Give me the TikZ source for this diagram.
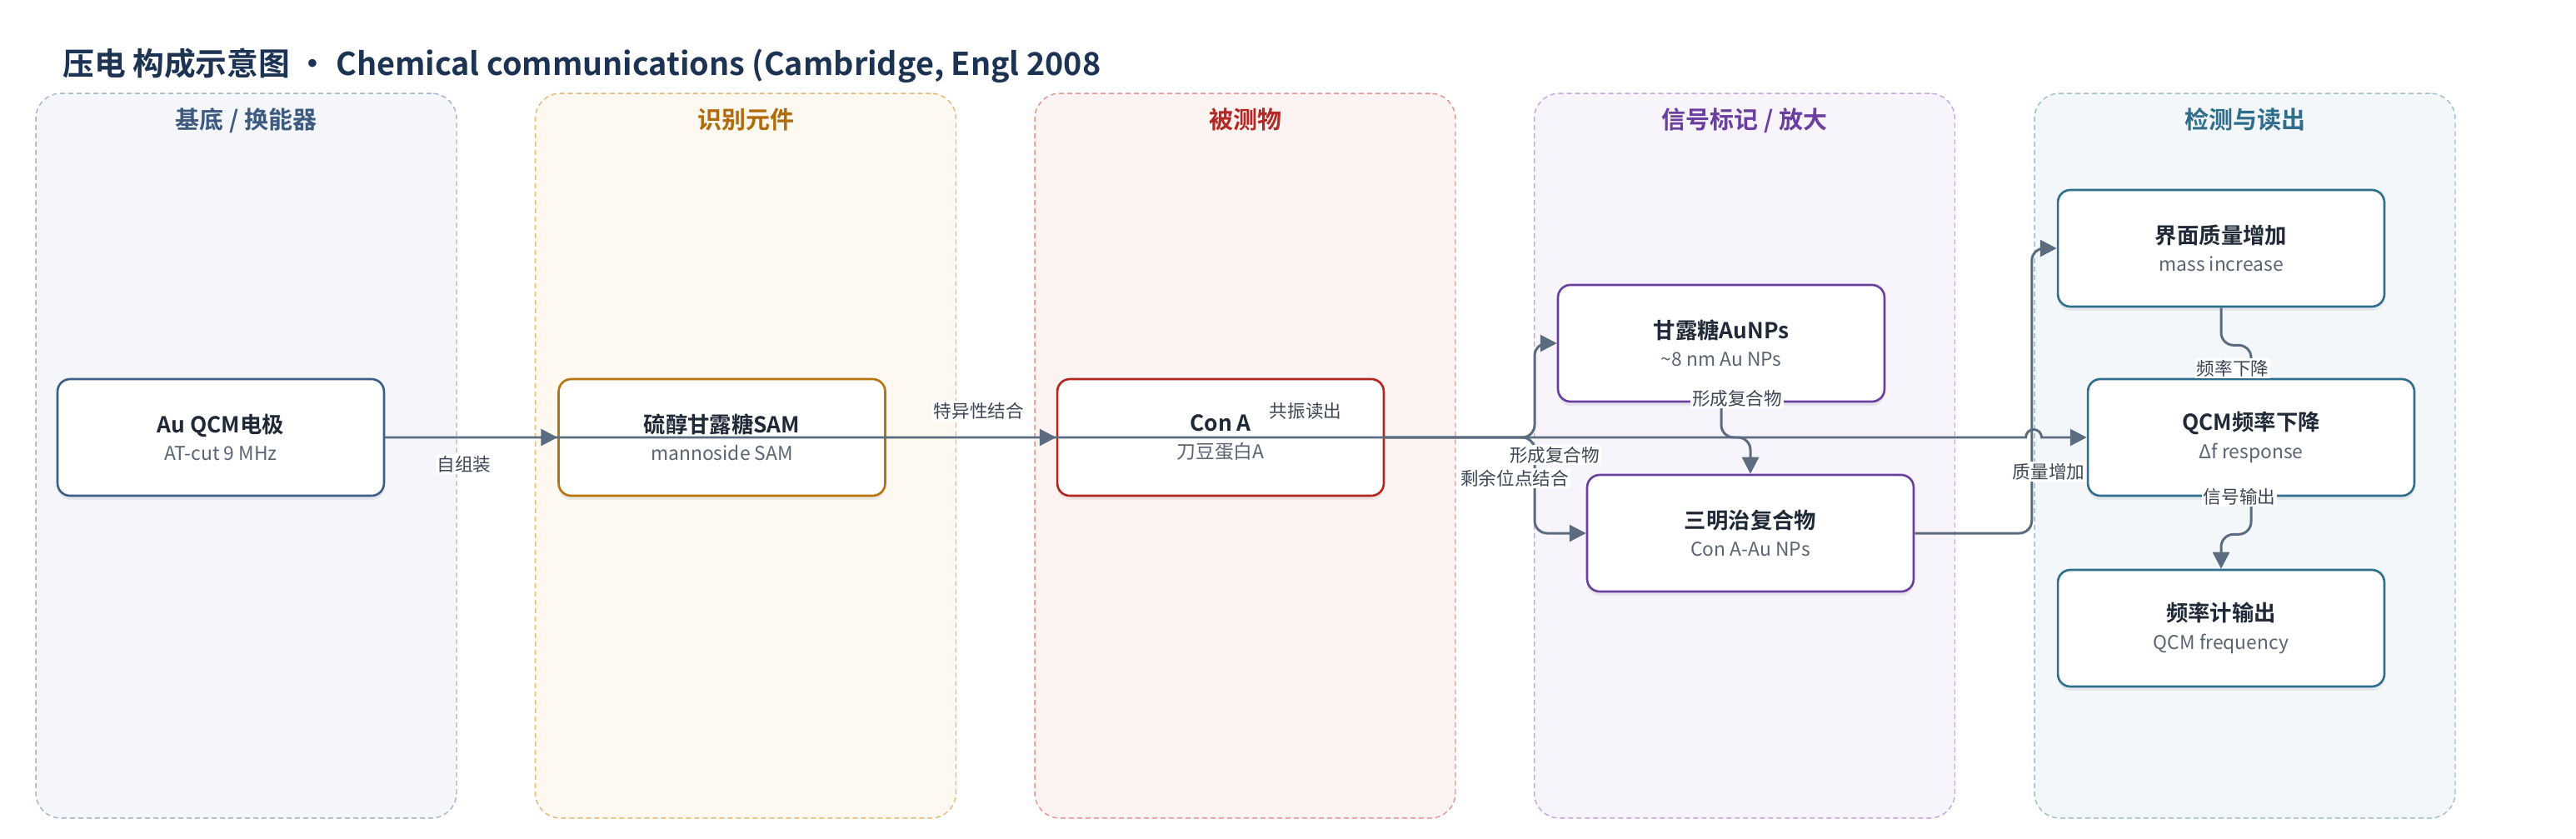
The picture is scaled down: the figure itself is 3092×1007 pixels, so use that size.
\documentclass[tikz,border=0pt]{standalone}
\usepackage{fontspec}
\setmainfont{Noto Sans CJK SC}[BoldFont={Noto Sans CJK SC Bold}]
\usepackage{tikz}
\usetikzlibrary{arrows.meta, positioning, shadows}

\definecolor{titlec}{HTML}{1C3354}
\definecolor{textc}{HTML}{1F2937}
\definecolor{subc}{HTML}{5A6472}
\definecolor{lblc}{HTML}{3C4654}
\definecolor{edgec}{HTML}{5B6B80}
\definecolor{l1f}{HTML}{F4F6FA}\definecolor{l1b}{HTML}{A5B4C8}\definecolor{l1t}{HTML}{3D5A80}\definecolor{l1n}{HTML}{3E5F85}
\definecolor{l2f}{HTML}{FDF8F0}\definecolor{l2b}{HTML}{E3B878}\definecolor{l2t}{HTML}{B26B0A}\definecolor{l2n}{HTML}{B8730D}
\definecolor{l3f}{HTML}{FDF3F2}\definecolor{l3b}{HTML}{E29590}\definecolor{l3t}{HTML}{B32A24}\definecolor{l3n}{HTML}{B3261E}
\definecolor{l4f}{HTML}{F7F4FB}\definecolor{l4b}{HTML}{C2A6DC}\definecolor{l4t}{HTML}{6A3F9F}\definecolor{l4n}{HTML}{6B3FA0}
\definecolor{l5f}{HTML}{F3F7F9}\definecolor{l5b}{HTML}{9EBFCD}\definecolor{l5t}{HTML}{2F6D8C}\definecolor{l5n}{HTML}{2F6E8E}

\newcommand{\subline}{\fontsize{13pt}{16pt}\selectfont\color{subc}}

\tikzset{
  lane/.style={rectangle, rounded corners=0.6cm, minimum width=10.1cm, minimum height=17.4cm, dash pattern=on 0.12cm off 0.08cm, line width=0.8pt},
  lanetitle/.style={font=\fontsize{16.5pt}{18pt}\selectfont\bfseries, inner sep=0pt},
  block/.style={rectangle, rounded corners=0.3cm, minimum width=7.84cm, minimum height=2.8cm, text centered, align=center, fill=white, line width=1.5pt, text=textc, font=\fontsize{15pt}{19pt}\selectfont, drop shadow={shadow xshift=0pt, shadow yshift=-0.1cm, opacity=0.12}},
  arrow/.style={line width=1.7pt, draw=edgec, -{Triangle[length=0.4cm, width=0.4cm]}, rounded corners=0.3cm},
  elabel/.style={fill=white, inner sep=1pt, text=lblc, font=\fontsize{12.3pt}{14pt}\selectfont}
}

\begin{document}
\begin{tikzpicture}[x=0.02cm, y=-0.02cm]
\useasboundingbox (0,0) rectangle (3092,1007);

% Title
\node (title) [anchor=base west, inner sep=0pt, text=titlec, font=\fontsize{21.5pt}{25pt}\selectfont\bfseries] at (75,91) {压电 构成示意图 · Chemical communications (Cambridge, Engl 2008};

% Lanes
\node (lane1) [lane, draw=l1b, fill=l1f] at (295.5,547) {};
\node (lane2) [lane, draw=l2b, fill=l2f] at (895,547) {};
\node (lane3) [lane, draw=l3b, fill=l3f] at (1494.5,547) {};
\node (lane4) [lane, draw=l4b, fill=l4f] at (2094,547) {};
\node (lane5) [lane, draw=l5b, fill=l5f] at (2694.5,547) {};

\node (head1) [lanetitle, text=l1t, below=0.36cm of lane1.north] {基底 / 换能器};
\node (head2) [lanetitle, text=l2t, below=0.36cm of lane2.north] {识别元件};
\node (head3) [lanetitle, text=l3t, below=0.36cm of lane3.north] {被测物};
\node (head4) [lanetitle, text=l4t, below=0.36cm of lane4.north] {信号标记 / 放大};
\node (head5) [lanetitle, text=l5t, below=0.36cm of lane5.north] {检测与读出};

% Nodes
\node (qcm) [block, draw=l1n] at (265,525) {\textbf{Au QCM电极}\\{\subline AT-cut 9 MHz}};
\node (sam) [block, draw=l2n, right=4.14cm of qcm] {\textbf{硫醇甘露糖SAM}\\{\subline mannoside SAM}};
\node (cona) [block, draw=l3n, right=4.08cm of sam] {\textbf{Con A}\\{\subline 刀豆蛋白A}};
\node (aunp) [block, draw=l4n] at (2066,412) {\textbf{甘露糖AuNPs}\\{\subline \textasciitilde8 nm Au NPs}};
\node (sand) [block, draw=l4n] at (2101,640) {\textbf{三明治复合物}\\{\subline Con A-Au NPs}};
\node (mass) [block, draw=l5n] at (2666,298) {\textbf{界面质量增加}\\{\subline mass increase}};
\node (qcmf) [block, draw=l5n] at (2702,525) {\textbf{QCM频率下降}\\{\subline Δf response}};
\node (meter) [block, draw=l5n] at (2666,754) {\textbf{频率计输出}\\{\subline QCM frequency}};

\coordinate (split) at (1842,525);
\coordinate (hop) at (2441,525);

% Arrows
\draw [arrow] (qcm) -- (sam);
\draw [arrow] (sam) -- (cona);
\draw [arrow, sharp corners] (qcm.east) -- ([xshift=-0.19cm]hop) arc[start angle=180, end angle=0, radius=0.19cm] -- (qcmf.west);
\draw [arrow] (cona.east) -- (split) |- (aunp.west);
\draw [arrow] (cona.east) -- (split) |- (sand.west);
\draw [arrow] (aunp.south) -- (aunp.south |- split) -| (sand.north);
\draw [arrow] (sand.east) -| ([xshift=-0.6cm]mass.west) -- (mass.west);
\draw [arrow] (mass.south) -- ++(0,45) -| (qcmf.north);
\draw [arrow] (qcmf.south) -- ++(0,45) -| (meter.north);

% Labels
\node (lbSelf) [elabel] at (557,557) {自组装};
\node (lbBind) [elabel] at (1175,493) {特异性结合};
\node (lbRes) [elabel] at (1567,493) {共振读出};
\node (lbForm) [elabel] at (1866,546) {形成复合物};
\node (lbRest) [elabel] at (1818,574) {剩余位点结合};
\node (lbForm2) [elabel] at (2085,478) {形成复合物};
\node (lbMass) [elabel] at (2459,566) {质量增加};
\node (lbDrop) [elabel] at (2680,442) {频率下降};
\node (lbOut) [elabel] at (2688,596) {信号输出};
\end{tikzpicture}
\end{document}
